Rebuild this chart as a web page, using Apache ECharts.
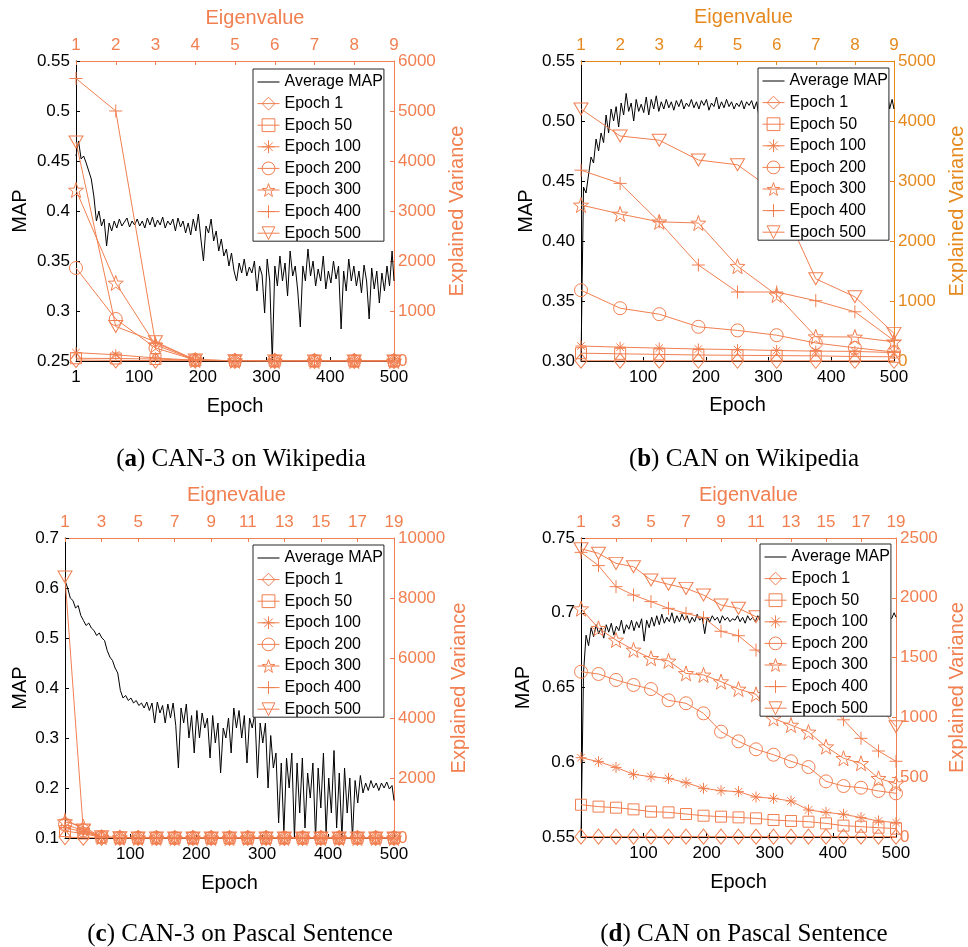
<!DOCTYPE html>
<html><head><meta charset="utf-8">
<script src="https://cdn.jsdelivr.net/npm/echarts@6/dist/echarts.min.js"></script>
<style>html,body{margin:0;padding:0;background:#fff}#c{width:968px;height:947px}</style>
</head><body><div id="c"></div>
<script>
// ---------- tick labels / categories ----------
const seriesNames = ['Average MAP','Epoch 1','Epoch 50','Epoch 100','Epoch 200','Epoch 300','Epoch 400','Epoch 500'];
const epochLabelsA = [1,100,200,300,400,500];
const epochLabelsBCD = [100,200,300,400,500];
const eig9 = [1,2,3,4,5,6,7,8,9];
const eig19 = [1,2,3,4,5,6,7,8,9,10,11,12,13,14,15,16,17,18,19];

// ---------- Average MAP (epochs 1,5,9,...,497,500) ----------
const mapA = [0.455,0.47,0.452,0.455,0.448,0.44,0.432,0.415,0.39,0.40,
0.385,0.392,0.365,0.388,0.38,0.39,0.383,0.392,0.385,0.389,
0.393,0.384,0.39,0.386,0.392,0.385,0.39,0.383,0.393,0.386,
0.394,0.384,0.391,0.386,0.394,0.383,0.39,0.386,0.392,0.38,
0.393,0.384,0.39,0.378,0.388,0.376,0.392,0.38,0.397,0.372,
0.35,0.385,0.378,0.392,0.37,0.38,0.36,0.372,0.355,0.362,
0.345,0.358,0.34,0.33,0.348,0.338,0.352,0.335,0.344,0.338,
0.35,0.32,0.345,0.336,0.298,0.352,0.33,0.25,0.345,0.325,
0.355,0.33,0.348,0.315,0.36,0.335,0.345,0.32,0.284,0.345,
0.33,0.362,0.335,0.35,0.325,0.342,0.33,0.355,0.322,0.34,
0.328,0.35,0.332,0.345,0.282,0.34,0.32,0.352,0.33,0.345,
0.325,0.34,0.318,0.346,0.33,0.292,0.343,0.322,0.34,0.308,
0.338,0.32,0.345,0.325,0.36,0.33];
const mapB = [0.30,0.445,0.44,0.455,0.47,0.465,0.485,0.475,0.49,0.482,
0.505,0.49,0.51,0.50,0.512,0.495,0.515,0.505,0.523,0.508,
0.515,0.50,0.518,0.508,0.514,0.507,0.52,0.505,0.518,0.51,
0.521,0.508,0.516,0.51,0.518,0.511,0.516,0.509,0.517,0.512,
0.518,0.51,0.515,0.512,0.518,0.511,0.516,0.51,0.517,0.513,
0.518,0.509,0.515,0.512,0.52,0.51,0.516,0.511,0.518,0.512,
0.516,0.51,0.515,0.512,0.517,0.51,0.516,0.513,0.517,0.51,
0.516,0.503,0.515,0.502,0.518,0.506,0.519,0.515,0.505,0.514,
0.51,0.517,0.509,0.515,0.511,0.518,0.51,0.516,0.512,0.519,
0.51,0.515,0.508,0.517,0.511,0.516,0.509,0.518,0.512,0.515,
0.51,0.517,0.511,0.516,0.509,0.518,0.512,0.515,0.51,0.517,
0.511,0.516,0.51,0.518,0.512,0.515,0.509,0.517,0.511,0.516,
0.512,0.514,0.526,0.51,0.518,0.51];
const mapC = [0.615,0.6,0.58,0.575,0.56,0.565,0.545,0.535,0.525,0.53,
0.52,0.515,0.505,0.51,0.5,0.495,0.475,0.462,0.455,0.44,
0.43,0.395,0.38,0.385,0.375,0.38,0.37,0.375,0.365,0.37,
0.36,0.372,0.355,0.37,0.33,0.372,0.35,0.365,0.33,0.368,
0.34,0.37,0.325,0.24,0.36,0.33,0.368,0.3,0.345,0.27,
0.355,0.3,0.35,0.32,0.34,0.26,0.345,0.29,0.33,0.23,
0.32,0.3,0.34,0.27,0.36,0.32,0.355,0.3,0.345,0.25,
0.34,0.32,0.35,0.22,0.33,0.29,0.33,0.2,0.305,0.24,
0.27,0.13,0.25,0.11,0.26,0.2,0.27,0.1,0.25,0.15,
0.26,0.12,0.23,0.18,0.25,0.1,0.24,0.16,0.27,0.11,
0.22,0.15,0.275,0.12,0.23,0.1,0.24,0.15,0.22,0.1,
0.215,0.17,0.225,0.19,0.21,0.195,0.215,0.2,0.21,0.195,
0.21,0.2,0.212,0.198,0.205,0.175];
const mapD = [0.55,0.66,0.685,0.678,0.69,0.684,0.692,0.686,0.69,0.683,
0.692,0.687,0.693,0.685,0.691,0.688,0.695,0.686,0.692,0.689,
0.695,0.688,0.694,0.69,0.696,0.681,0.695,0.69,0.697,0.691,
0.698,0.692,0.699,0.693,0.697,0.694,0.70,0.693,0.698,0.694,
0.699,0.695,0.698,0.693,0.697,0.694,0.699,0.695,0.697,0.686,
0.697,0.694,0.698,0.695,0.697,0.693,0.698,0.695,0.697,0.694,
0.696,0.695,0.698,0.694,0.697,0.693,0.698,0.695,0.697,0.694,
0.698,0.695,0.697,0.694,0.699,0.695,0.697,0.693,0.698,0.695,
0.697,0.694,0.698,0.695,0.697,0.694,0.699,0.695,0.697,0.693,
0.698,0.695,0.697,0.694,0.698,0.695,0.697,0.694,0.699,0.695,
0.697,0.694,0.698,0.695,0.697,0.693,0.698,0.695,0.697,0.694,
0.698,0.695,0.697,0.694,0.699,0.695,0.697,0.694,0.698,0.695,
0.697,0.694,0.698,0.696,0.70,0.697];

// ---------- Explained variance per eigenvalue ----------
const varA = {
  'Epoch 1':   [20,12,8,5,3,2,2,1,1],
  'Epoch 50':  [55,50,40,10,5,3,2,1,1],
  'Epoch 100': [167,125,60,15,5,3,2,1,1],
  'Epoch 200': [1860,840,260,20,5,3,2,1,1],
  'Epoch 300': [3420,1560,320,20,5,3,2,1,1],
  'Epoch 400': [5650,5000,360,25,5,3,2,1,1],
  'Epoch 500': [4380,690,385,20,5,3,2,1,1]
};
const varB = {
  'Epoch 1':   [4,4,4,3,3,3,3,3,3],
  'Epoch 50':  [130,120,110,100,95,90,85,75,70],
  'Epoch 100': [250,230,215,200,190,175,165,160,140],
  'Epoch 200': [1180,880,780,570,510,430,300,220,150],
  'Epoch 300': [2600,2450,2320,2300,1580,1100,405,400,320],
  'Epoch 400': [3180,2960,2320,1600,1150,1150,1005,820,340],
  'Epoch 500': [4200,3750,3680,3350,3270,2800,1370,1070,460]
};
const varC = {
  'Epoch 1':   [30,10,5,3,2,2,1,1,1,1,1,1,1,1,1,1,1,1,1],
  'Epoch 50':  [230,150,20,8,5,3,2,2,1,1,1,1,1,1,1,1,1,1,1],
  'Epoch 100': [350,200,25,10,5,3,2,2,1,1,1,1,1,1,1,1,1,1,1],
  'Epoch 200': [450,250,30,10,5,3,2,2,1,1,1,1,1,1,1,1,1,1,1],
  'Epoch 300': [540,380,30,10,5,3,2,2,1,1,1,1,1,1,1,1,1,1,1],
  'Epoch 400': [620,300,35,12,5,3,2,2,1,1,1,1,1,1,1,1,1,1,1],
  'Epoch 500': [8700,270,40,12,5,3,2,2,1,1,1,1,1,1,1,1,1,1,1]
};
const varD = {
  'Epoch 1':   [3,3,3,3,3,3,3,3,3,3,3,3,3,3,3,3,3,3,3],
  'Epoch 50':  [270,254,245,231,212,206,192,178,170,164,156,142,134,128,114,95,86,78,70],
  'Epoch 100': [663,630,582,524,504,490,454,407,387,379,334,323,301,226,206,190,162,134,120],
  'Epoch 200': [1382,1363,1313,1271,1237,1143,1118,1034,881,800,733,688,633,585,465,426,412,385,365],
  'Epoch 300': [1909,1745,1647,1564,1494,1472,1368,1355,1299,1237,1193,990,936,878,755,658,616,491,446],
  'Epoch 400': [2380,2269,2093,2023,1968,1912,1870,1834,1720,1683,1563,1470,1360,1240,1120,980,825,719,633],
  'Epoch 500': [2410,2372,2288,2260,2149,2113,2079,2023,1940,1912,1842,1790,1700,1600,1490,1370,1240,1100,922]
};

// ---------- styles ----------
const CORAL = '#F17F50';
const ORANGE = '#E5891E';
const SANS = '"Liberation Sans", Arial, Helvetica, sans-serif';
const SERIF = '"Liberation Serif", "Times New Roman", serif';
const starPath = 'path://M5,0 L6.176,3.382 L9.755,3.455 L6.902,5.618 L7.939,9.045 L5,7 L2.061,9.045 L3.098,5.618 L0.245,3.455 L3.824,3.382 Z';
const SYM = {
  'Epoch 1':   {symbol:'diamond', size:[12,15]},
  'Epoch 50':  {symbol:'rect', size:11},
  'Epoch 100': {symbol:'path://M5,0L5,10M0,5L10,5M1.6,1.6L8.4,8.4M8.4,1.6L1.6,8.4', size:11},
  'Epoch 200': {symbol:'circle', size:13},
  'Epoch 300': {symbol:starPath, size:15},
  'Epoch 400': {symbol:'path://M5,0L5,10M0,5L10,5', size:13},
  'Epoch 500': {symbol:'path://M0,0L10,0L5,8.66Z', size:[14,12]}
};

const panels = [
  {grid:{left:76, top:61, width:318, height:300}, map:mapA, vars:varA, eig:eig9,
   mapMin:0.25, mapMax:0.55, mapStep:0.05, fix:false, varMax:6000, varStep:1000, eigStep:1,
   epochLabels:epochLabelsA, axisColor:CORAL, topName:'Eigenvalue', topPad:40,
   gaps:{left:46, right:53, bottom:35, top:33}, legend:{left:253, top:69},
   caption:'({b|a}) CAN-3 on Wikipedia', cap:{left:241, top:447}},
  {grid:{left:581, top:61, width:318, height:300}, map:mapB, vars:varB, eig:eig9,
   mapMin:0.30, mapMax:0.55, mapStep:0.05, fix:true, varMax:5000, varStep:1000, eigStep:1,
   epochLabels:epochLabelsBCD, axisColor:ORANGE, topName:'Eigenvalue', topPad:12,
   gaps:{left:45, right:53, bottom:34, top:34}, legend:{left:758, top:68},
   caption:'({b|b}) CAN on Wikipedia', cap:{left:744, top:447}},
  {grid:{left:65, top:538, width:329, height:300}, map:mapC, vars:varC, eig:eig19,
   mapMin:0.1, mapMax:0.7, mapStep:0.1, fix:false, varMax:10000, varStep:2000, eigStep:2,
   epochLabels:epochLabelsBCD, axisColor:CORAL, topName:'Eignevalue', topPad:14,
   gaps:{left:35, right:51, bottom:35, top:33}, legend:{left:253, top:545},
   caption:'({b|c}) CAN-3 on Pascal Sentence', cap:{left:240, top:922}},
  {grid:{left:581, top:538, width:319, height:299}, map:mapD, vars:varD, eig:eig19,
   mapMin:0.55, mapMax:0.75, mapStep:0.05, fix:false, varMax:2500, varStep:500, eigStep:2,
   epochLabels:epochLabelsBCD, axisColor:CORAL, topName:'Eigenvalue', topPad:20,
   gaps:{left:48, right:51, bottom:35, top:33}, legend:{left:760, top:544},
   caption:'({b|d}) CAN on Pascal Sentence', cap:{left:744, top:922}}
];

const option = {animation:false, backgroundColor:'#fff', grid:[], xAxis:[], yAxis:[], series:[], legend:[], title:[]};

panels.forEach((p, i) => {
  option.grid.push(Object.assign({containLabel:false}, p.grid));
  const tickFont = {fontSize:17, fontFamily:SANS};
  // bottom epoch axis
  option.xAxis.push({gridIndex:i, type:'value', position:'bottom', min:1, max:500,
    axisLine:{show:true, onZero:false, lineStyle:{color:'#000', width:1}},
    axisTick:{show:true, inside:true, length:4, customValues:p.epochLabels, lineStyle:{color:'#000'}},
    axisLabel:Object.assign({customValues:p.epochLabels, color:'#000', margin:8, formatter:v => String(v)}, tickFont),
    splitLine:{show:false},
    name:'Epoch', nameLocation:'middle', nameGap:p.gaps.bottom,
    nameTextStyle:{fontSize:20, color:'#000', fontFamily:SANS}});
  // top eigenvalue axis
  option.xAxis.push({gridIndex:i, type:'value', position:'top', min:1, max:p.eig[p.eig.length-1], interval:p.eigStep,
    axisLine:{show:true, onZero:false, lineStyle:{color:p.axisColor, width:1}},
    axisTick:{show:true, inside:true, length:4, lineStyle:{color:p.axisColor}},
    axisLabel:Object.assign({color:p.axisColor, margin:7, formatter:v => String(v)}, tickFont),
    splitLine:{show:false},
    name:p.topName, nameLocation:'middle', nameGap:p.gaps.top,
    nameTextStyle:{fontSize:20, color:p.axisColor, fontFamily:SANS, padding:[0,0,0,p.topPad]}});
  // left MAP axis
  option.yAxis.push({gridIndex:i, type:'value', position:'left', min:p.mapMin, max:p.mapMax, interval:p.mapStep,
    axisLine:{show:true, onZero:false, lineStyle:{color:'#000', width:1}},
    axisTick:{show:true, inside:true, length:4, lineStyle:{color:'#000'}},
    axisLabel:Object.assign({color:'#000', margin:6,
      formatter: p.fix ? (v => v.toFixed(2)) : (v => String(+v.toFixed(4)))}, tickFont),
    splitLine:{show:false},
    name:'MAP', nameLocation:'middle', nameGap:p.gaps.left,
    nameTextStyle:{fontSize:20, color:'#000', fontFamily:SANS}});
  // right variance axis
  option.yAxis.push({gridIndex:i, type:'value', position:'right', min:0, max:p.varMax, interval:p.varStep,
    axisLine:{show:true, onZero:false, lineStyle:{color:p.axisColor, width:1}},
    axisTick:{show:true, inside:true, length:4, lineStyle:{color:p.axisColor}},
    axisLabel:Object.assign({color:p.axisColor, margin:4, formatter:v => String(Math.round(v))}, tickFont),
    splitLine:{show:false},
    name:'Explained Variance', nameLocation:'middle', nameGap:p.gaps.right,
    nameTextStyle:{fontSize:20, color:p.axisColor, fontFamily:SANS}});

  // Average MAP series
  option.series.push({type:'line', name:'Average MAP', xAxisIndex:2*i, yAxisIndex:2*i,
    data:p.map.map((v, k) => [Math.min(1 + 4*k, 500), v]),
    symbol:'none', showSymbol:false, lineStyle:{color:'#000', width:1}, itemStyle:{color:'#000'}, z:2});
  // eigen series
  seriesNames.slice(1).forEach(name => {
    const s = SYM[name];
    option.series.push({type:'line', name, xAxisIndex:2*i+1, yAxisIndex:2*i+1,
      data:p.vars[name].map((v, k) => [p.eig[k], v]),
      symbol:s.symbol, symbolSize:s.size, showSymbol:true, showAllSymbol:true,
      lineStyle:{color:CORAL, width:1},
      itemStyle:{color:'rgba(255,255,255,0)', borderColor:CORAL, borderWidth:1}, z:3});
  });

  option.legend.push({left:p.legend.left, top:p.legend.top, orient:'vertical',
    data:[{name:'Average MAP', itemStyle:{opacity:0}}].concat(seriesNames.slice(1)),
    itemWidth:22, itemHeight:16, itemGap:5.6, padding:[5,1,0,4],
    backgroundColor:'#fff', borderColor:'#262626', borderWidth:1, borderRadius:0,
    textStyle:{fontSize:16, color:'#000', fontFamily:SANS},
    itemStyle:{borderWidth:1}, lineStyle:{width:1}, selectedMode:false, z:10});

  option.title.push({text:p.caption, left:p.cap.left, top:p.cap.top, textAlign:'center', padding:0,
    textStyle:{fontFamily:SERIF, fontSize:25, fontWeight:'normal', color:'#000',
      rich:{b:{fontFamily:SERIF, fontSize:25, fontWeight:'bold', color:'#000'}}}});
});

const chart = echarts.init(document.getElementById('c'), null, {renderer:'canvas'});
chart.setOption(option);
</script></body></html>
